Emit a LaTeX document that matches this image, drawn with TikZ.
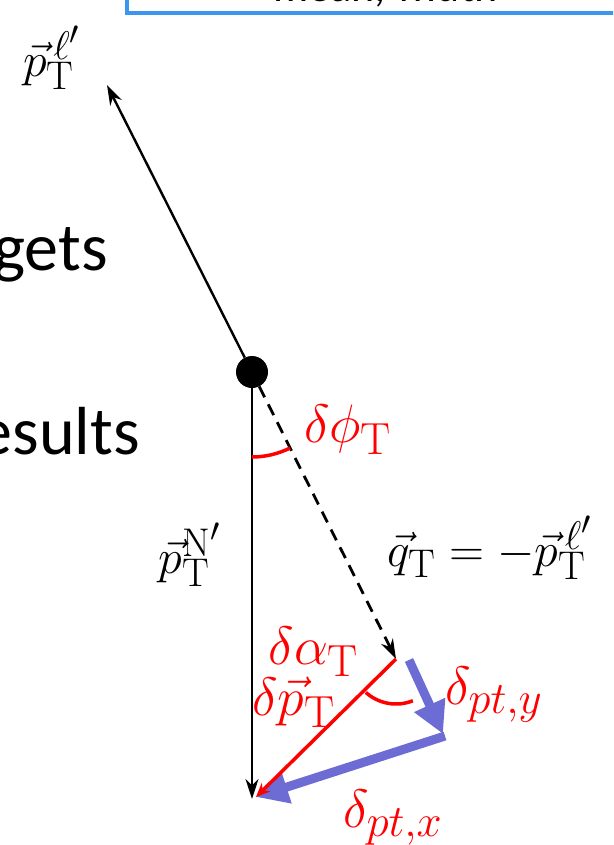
\documentclass[tikz,border=0pt]{standalone}
\usepackage{fontspec}
\newfontfamily\calib{Carlito}
\usetikzlibrary{arrows.meta,calc}
\definecolor{boxblue}{RGB}{60,150,240}
\definecolor{arrblue}{RGB}{108,108,212}
\begin{document}
\begin{tikzpicture}[x=1pt,y=1pt,
  blk/.style={line width=2.4pt, -{Stealth[length=20pt,width=13pt]}},
  dsh/.style={line width=2.8pt, dash pattern=on 12pt off 8pt, -{Stealth[length=20pt,width=13pt]}},
  bluearr/.style={arrblue, line width=9pt, -{Triangle[length=32pt,width=32pt]}},
  redarr/.style={red, line width=3.5pt, -{Stealth[length=14pt,width=12pt]}},
  redarc/.style={red, line width=3.5pt},
  blab/.style={inner sep=0pt, font=\Huge, scale=1.93, transform shape},
  rlab/.style={inner sep=0pt, text=red, font=\Huge, scale=2.17, transform shape},
  slide/.style={inner sep=0pt, font=\calib\fontsize{68}{80}\selectfont}]
\useasboundingbox (0,0) rectangle (613,-845);
\clip (0,0) rectangle (613,-845);

% top box
\draw[boxblue, line width=4.5pt] (127,30) rectangle (650,-13);
\node[inner sep=0pt, anchor=base west, font=\calib\fontsize{44}{52}\selectfont] (mw) at (273,-2) {mean, width};

% slide text
\node[slide, anchor=base east] (gets) at (108,-270) {gets};
\node[slide, anchor=base east] (res) at (140,-454) {esults};

% points
\node[circle, fill=black, inner sep=0pt, minimum size=32pt] (dot) at (252,-372) {};
\coordinate (ptop) at (107,-85);
\coordinate (nb) at (252,-799);
\coordinate (qe) at (396,-659);
\coordinate (bs) at (409,-660);
\coordinate (corner) at (443,-734);
\coordinate (bend) at (256,-797);

% black arrows
\draw[blk] (dot) -- (ptop);
\draw[blk] (dot) -- (nb);
\draw[dsh] (dot) -- (qe);

% blue arrows
\draw[bluearr] (bs) -- (corner);
\draw[bluearr] ($(corner)+(2,-2)$) -- (bend);

% red arrow
\draw[redarr] (qe) -- (bend);

% angle arcs
\draw[redarc] ($(dot)+(-90:85)$) arc[start angle=-90, end angle=-63.4, radius=85pt];
\draw[redarc] ($(qe)+(228:45)$) arc[start angle=228, end angle=292, radius=45pt];

% labels
\node[blab] (lp) at (52,-58) {$\vec{p}_{\mathrm{T}}^{\,\ell'}$};
\node[blab] (lN) at (190,-555) {$\vec{p}_{\mathrm{T}}^{\mathrm{N}'}$};
\node[blab] (lq) at (490,-548) {$\vec{q}_{\mathrm{T}} = -\vec{p}_{\mathrm{T}}^{\,\ell'}$};
\node[rlab] (lphi) at (348,-430) {$\delta\phi_{\mathrm{T}}$};
\node[rlab] (lal) at (314,-652) {$\delta\alpha_{\mathrm{T}}$};
\node[rlab] (ldp) at (294,-702) {$\delta\vec{p}_{\mathrm{T}}$};
\node[rlab] (ly) at (494,-695) {$\delta_{pt,y}$};
\node[rlab] (lx) at (393,-818) {$\delta_{pt,x}$};
\end{tikzpicture}
\end{document}
